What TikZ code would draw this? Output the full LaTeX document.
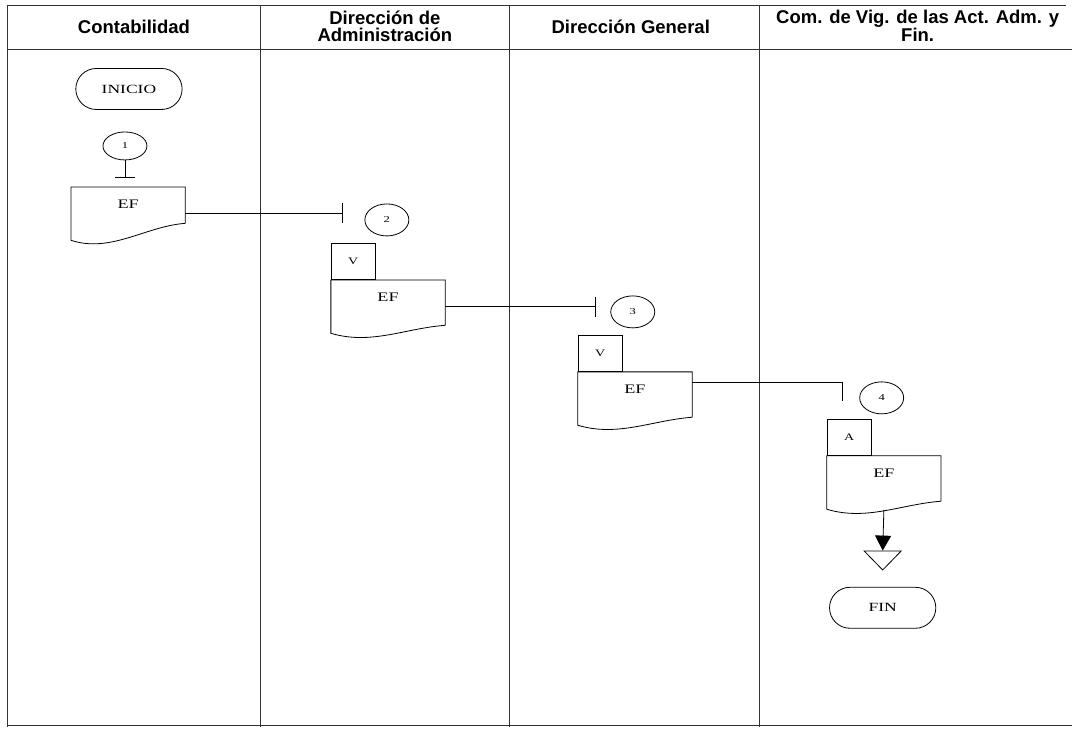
\documentclass[tikz,border=0pt]{standalone}
\usepackage{fontspec}
\setmainfont{Liberation Serif}
\setsansfont{Liberation Sans}
\newfontfamily\docfont[FakeStretch=1.4]{Liberation Serif}
\usetikzlibrary{shapes}
\usetikzlibrary{arrows.meta}
\tikzset{
    myhead/.style = {align=center,font=\sffamily\bfseries\fontsize{18.5}{17}\selectfont,text=black},
    myterm/.style = {rounded rectangle, thick, draw=black, minimum width=113pt, minimum height=41pt, font=\docfont\fontsize{12.5}{12}\selectfont},
    mycirc/.style = {ellipse, thick, draw=black, minimum width=44pt, minimum height=32pt, inner sep=0pt, font=\docfont\fontsize{9}{9}\selectfont},
    mybox/.style = {rectangle, thick, draw=black, minimum width=44pt, minimum height=36pt, inner sep=0pt, anchor=south west, font=\docfont\fontsize{10}{10}\selectfont},
    mydoc/.style = {rectangle, inner sep=0pt, minimum width=114pt, text height=21pt, text depth=24pt, anchor=north west, font=\docfont\fontsize{13}{13}\selectfont},
    mymerge/.style = {isosceles triangle, isosceles triangle stretches, shape border rotate=-90, thick, draw=black, minimum width=37pt, minimum height=19pt, inner sep=0pt},
    edgen/.style = {-,thick,black},
    edget/.style = {-{Bar[width=20pt]},thick,black},
    edgea/.style = {-{Triangle[width=16pt,length=15pt]},thick,black},
    lane/.style = {-,thick,black!80}
}
% document outline: top box plus wavy bottom edge
\newcommand{\docwave}[3]{%
  \draw[edgen] (#1.south east) -- (#1.north east) -- (#1.north west) -- ([yshift=-#2pt]#1.south west)
    .. controls ([shift={(40pt,-#3pt)}]#1.south west) and ([shift={(-40pt,-3pt)}]#1.south east) .. (#1.south east);}

\begin{document}
\begin{tikzpicture}[x=1pt,y=-1pt]
% lanes
\draw[lane] (7,5) -- (1066,5);
\draw[lane] (7,49) -- (1072,49);
\draw[lane] (7,726) -- (1072,726);
\draw[lane] (7,5) -- (7,727);
\draw[lane] (260,5) -- (260,727);
\draw[lane] (510,5) -- (510,727);
\draw[lane] (760,5) -- (760,727);
\node[myhead] at (134,27) (h1) {Contabilidad};
\node[myhead] at (385,26) (h2) {Dirección de\\Administración};
\node[myhead] at (631,27) (h3) {Dirección General};
\node[myhead] at (918,26) (h4) {Com. de Vig. de las Act. Adm. y\\Fin.};
%
\node[myterm] at (129,89) (ini) {INICIO};
\node[mycirc, minimum height=28pt] at (125,146) (c1) {1};
\node[mydoc, text depth=15pt] at (71,187) (doc1) {EF};
\docwave{doc1}{17}{30}
%
\node[mycirc] at (387,220) (c2) {2};
\node[mydoc] at (331,280) (doc2) {EF};
\docwave{doc2}{8}{20}
\node[mybox] at (doc2.north west) (v2) {V};
%
\node[mycirc] at (633,312) (c3) {3};
\node[mydoc] at (578,372) (doc3) {EF};
\docwave{doc3}{8}{20}
\node[mybox] at (doc3.north west) (v3) {V};
%
\node[mycirc] at (882,398) (c4) {4};
\node[mydoc] at (827,456) (doc4) {EF};
\docwave{doc4}{8}{20}
\node[mybox] at (doc4.north west) (a4) {A};
\node[mymerge] at (883,559) (mrg) {};
\node[myterm] at (883,608) (fin) {FIN};
%
\coordinate (t0) at (125,178);
\coordinate (t1) at (343,213);
\coordinate (t2) at (596,307);
\coordinate (k3) at (843,383);
\coordinate (t3) at (843,401);
\draw[edget] (c1) -- (t0);
\draw[edget] (t1 -| doc1.east) -- (t1);
\draw[edget] (t2 -| doc2.east) -- (t2);
\draw[edgen] (k3 -| doc3.east) -- (k3) -- (t3);
\draw[edgea] ([yshift=-9pt]doc4.south) -- (mrg.north);

\path[use as bounding box] (0,0) rectangle (1072,729);
\end{tikzpicture}
\end{document}
